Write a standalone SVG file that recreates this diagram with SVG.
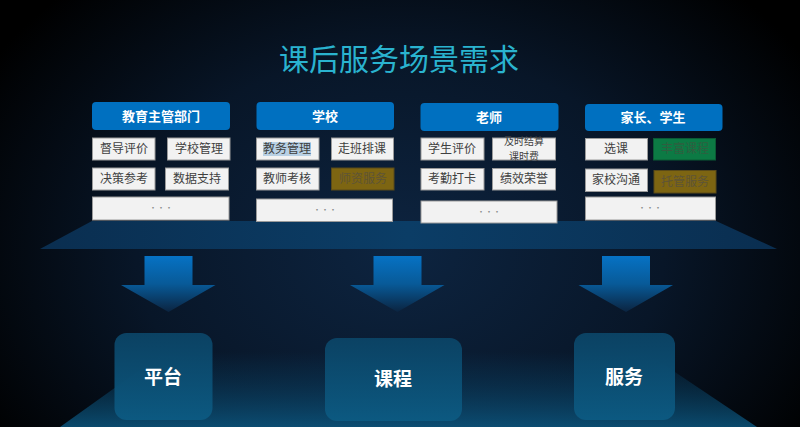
<svg xmlns="http://www.w3.org/2000/svg" width="800" height="427" viewBox="0 0 800 427">
  <defs>
    <radialGradient id="bg" cx="400" cy="250" r="480" gradientUnits="userSpaceOnUse" gradientTransform="translate(400 250) scale(1 0.75) translate(-400 -250)">
      <stop offset="0" stop-color="#0d2440"/>
      <stop offset="0.55" stop-color="#081628"/>
      <stop offset="1" stop-color="#000000"/>
    </radialGradient>
    <linearGradient id="deck" x1="0" y1="0" x2="1" y2="0">
      <stop offset="0" stop-color="#0a2e50"/>
      <stop offset="0.5" stop-color="#0b3d66"/>
      <stop offset="1" stop-color="#0a2e50"/>
    </linearGradient>
    <linearGradient id="floor" x1="0" y1="0" x2="0" y2="1">
      <stop offset="0" stop-color="#0a4a70" stop-opacity="0"/>
      <stop offset="0.4" stop-color="#0a4a70" stop-opacity="0.35"/>
      <stop offset="1" stop-color="#0c5a84" stop-opacity="0.8"/>
    </linearGradient>
    <linearGradient id="arrow" x1="0" y1="0" x2="0" y2="1">
      <stop offset="0" stop-color="#0672c4"/>
      <stop offset="0.5" stop-color="#085a98"/>
      <stop offset="1" stop-color="#0b2440"/>
    </linearGradient>
    <linearGradient id="card" x1="0" y1="0" x2="0" y2="1">
      <stop offset="0" stop-color="#0b4466"/>
      <stop offset="1" stop-color="#0c5a82"/>
    </linearGradient>
    <style>
      .hdr{fill:#0070c0}
      .hdrt{font-family:"Noto Sans CJK SC","Noto Sans",sans-serif;font-size:13px;font-weight:bold;fill:#ffffff;text-anchor:middle}
      .box{fill:#f2f2f2;stroke:#9a9a9a;stroke-width:1}
      .bt{font-family:"Noto Sans CJK SC","Noto Sans",sans-serif;font-size:12px;fill:#404040;text-anchor:middle}
      .bt2{font-family:"Noto Sans CJK SC","Noto Sans",sans-serif;font-size:10px;fill:#404040;text-anchor:middle}
      .dots{font-family:"Noto Sans CJK SC","Noto Sans",sans-serif;font-size:8px;fill:#8a8a8a;text-anchor:middle}
      .gold{fill:#7d6512;stroke:#5a4a18;stroke-width:1}
      .goldt{font-family:"Noto Sans CJK SC","Noto Sans",sans-serif;font-size:12px;fill:#5e5436;text-anchor:middle}
      .green{fill:#0c7a44;stroke:#0a5a34;stroke-width:1}
      .greent{font-family:"Noto Sans CJK SC","Noto Sans",sans-serif;font-size:12px;fill:#2f5e40;text-anchor:middle}
      .card{fill:url(#card)}
      .cardt{font-family:"Noto Sans CJK SC","Noto Sans",sans-serif;font-size:19px;font-weight:bold;fill:#ffffff;text-anchor:middle}
      .arr{fill:url(#arrow)}
    </style>
  </defs>

  <rect x="0" y="0" width="800" height="427" fill="url(#bg)"/>
  <polygon points="165,352 645,352 757,427 60,427" fill="url(#floor)"/>
  <polygon points="92,221 716,221 777,249 40,249" fill="url(#deck)"/>

  <text x="399" y="70" font-family="'Noto Sans CJK SC','Noto Sans',sans-serif" font-size="30" fill="#2ab3cf" text-anchor="middle">课后服务场景需求</text>

  <g id="col-edu">
    <rect class="hdr" x="92" y="102" width="138" height="28" rx="4"/>
    <text class="hdrt" x="161" y="121">教育主管部门</text>
    <rect class="box" x="92.5" y="138" width="62.5" height="22"/>
    <text class="bt" x="124" y="153">督导评价</text>
    <rect class="box" x="167.5" y="138" width="62.5" height="22"/>
    <text class="bt" x="199" y="153">学校管理</text>
    <rect class="box" x="92.5" y="168" width="62.5" height="22"/>
    <text class="bt" x="124" y="183">决策参考</text>
    <rect class="box" x="165.5" y="168" width="63" height="22"/>
    <text class="bt" x="197" y="183">数据支持</text>
    <rect class="box" x="92.5" y="197" width="136.5" height="23"/>
    <text class="dots" x="161" y="211">···</text>
  </g>

  <g id="col-school">
    <rect class="hdr" x="256.5" y="102" width="137.5" height="28" rx="4"/>
    <text class="hdrt" x="325" y="121">学校</text>
    <rect class="box" x="256.5" y="138" width="62.5" height="22"/>
    <rect x="263" y="142" width="48" height="14" fill="#b8d0e4"/>
    <text class="bt" x="287" y="153">教务管理</text>
    <rect class="box" x="331.5" y="138" width="62" height="22"/>
    <text class="bt" x="362" y="153">走班排课</text>
    <rect class="box" x="256.5" y="168" width="62.5" height="22"/>
    <text class="bt" x="287" y="183">教师考核</text>
    <rect class="gold" x="331.5" y="168" width="62.5" height="22"/>
    <text class="goldt" x="363" y="183">师资服务</text>
    <rect class="box" x="256.5" y="199" width="136" height="22.5"/>
    <text class="dots" x="325" y="213">···</text>
  </g>

  <g id="col-teacher">
    <rect class="hdr" x="420.5" y="103" width="138" height="28" rx="4"/>
    <text class="hdrt" x="489" y="122">老师</text>
    <rect class="box" x="421" y="138" width="63" height="22"/>
    <text class="bt" x="452" y="153">学生评价</text>
    <rect class="box" x="492.5" y="138" width="63" height="22"/>
    <text class="bt2"><tspan x="524" y="145">及时结算</tspan><tspan x="524" y="160">课时费</tspan></text>
    <rect class="box" x="421" y="168.5" width="63" height="21.5"/>
    <text class="bt" x="452" y="183">考勤打卡</text>
    <rect class="box" x="492.5" y="168.5" width="63" height="21.5"/>
    <text class="bt" x="524" y="183">绩效荣誉</text>
    <rect class="box" x="421" y="201" width="136" height="22"/>
    <text class="dots" x="489" y="215">···</text>
  </g>

  <g id="col-parent">
    <rect class="hdr" x="585" y="104" width="137.5" height="27" rx="4"/>
    <text class="hdrt" x="653" y="122">家长、学生</text>
    <rect class="box" x="585.5" y="138.5" width="62" height="21.5"/>
    <text class="bt" x="616" y="153">选课</text>
    <rect class="green" x="653.5" y="138.5" width="62" height="21.5"/>
    <text class="greent" x="685" y="153">丰富课程</text>
    <rect class="box" x="585.5" y="169" width="62" height="22.5"/>
    <text class="bt" x="616" y="184">家校沟通</text>
    <rect class="gold" x="654" y="170.5" width="62" height="22.5"/>
    <text class="goldt" x="685" y="186">托管服务</text>
    <rect class="box" x="585.5" y="197" width="130" height="23"/>
    <text class="dots" x="650" y="211">···</text>
  </g>

  <g id="connectors">
    <polygon class="arr" points="144.5,256 192.5,256 192.5,285 215.5,285 168.5,312 121,285 144.5,285"/>
    <polygon class="arr" points="373.5,256 421.5,256 421.5,285 444.5,285 397.5,312 350,285 373.5,285"/>
    <polygon class="arr" points="602,256 650,256 650,285 673,285 626,312 578.5,285 602,285"/>
  </g>

  <g id="node-platform">
    <rect class="card" x="114.5" y="333" width="98" height="87" rx="12" opacity="0.95"/>
    <text class="cardt" x="163" y="384">平台</text>
  </g>
  <g id="node-course">
    <rect class="card" x="325" y="338" width="137" height="83" rx="12" opacity="0.95"/>
    <text class="cardt" x="393" y="386">课程</text>
  </g>
  <g id="node-service">
    <rect class="card" x="574" y="333" width="101" height="87" rx="12" opacity="0.95"/>
    <text class="cardt" x="624" y="384">服务</text>
  </g>
</svg>
